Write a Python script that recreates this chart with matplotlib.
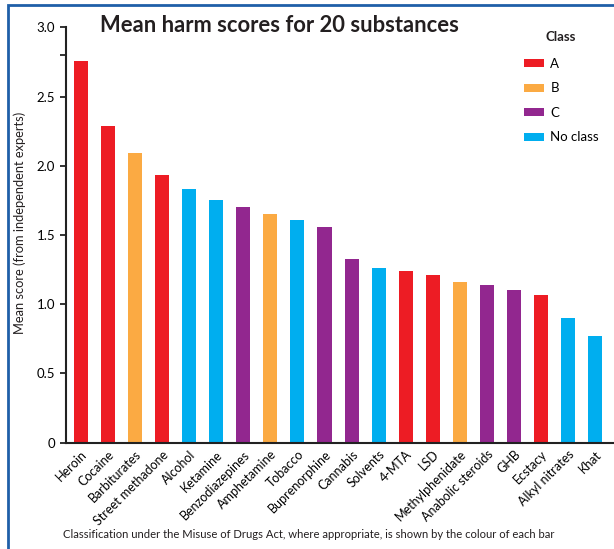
import numpy as np
import matplotlib
matplotlib.use("Agg")
import matplotlib.pyplot as plt
from matplotlib.patches import Patch, Rectangle

substances = ["Heroin", "Cocaine", "Barbiturates", "Street methadone", "Alcohol",
              "Ketamine", "Benzodiazepines", "Amphetamine", "Tobacco", "Buprenorphine",
              "Cannabis", "Solvents", "4-MTA", "LSD", "Methylphenidate",
              "Anabolic steroids", "GHB", "Ecstacy", "Alkyl nitrates", "Khat"]
scores = [2.76, 2.29, 2.09, 1.93, 1.83, 1.75, 1.70, 1.65, 1.61, 1.56,
          1.33, 1.26, 1.24, 1.21, 1.16, 1.14, 1.10, 1.07, 0.90, 0.77]
classes = ["A", "A", "B", "A", "N", "N", "C", "B", "N", "C",
           "C", "N", "A", "A", "B", "C", "C", "A", "N", "N"]
class_names = ["A", "B", "C", "No class"]
class_keys = ["A", "B", "C", "N"]

palette = {"A": "#ED1C24", "B": "#FBAA43", "C": "#92278F", "N": "#00AEEF"}

plt.rcParams['font.family'] = ['Lato', 'DejaVu Sans']

fig = plt.figure(figsize=(6.14, 5.49), dpi=100)
ax = fig.add_axes([65.7 / 614, 1 - 442.7 / 549, (614 - 65.7) / 614, (442.7 - 27.3) / 549])

x = np.arange(len(substances))
ax.bar(x, scores, width=0.52, color=[palette[c] for c in classes])

ax.set_xlim(-0.566, 19.70)
ax.set_ylim(0, 3.0)
ax.set_yticks([0, 0.5, 1.0, 1.5, 2.0, 2.5, 3.0])
ax.set_yticklabels(["0", "0.5", "1.0", "1.5", "2.0", "2.5", "3.0"], fontsize=9.5)
ax.set_yticks([2.8], minor=True)
ax.tick_params(axis='y', which='both', direction='out', length=4, width=1.3, color='#222222')
ax.set_xticks(x)
ax.set_xticklabels(substances, rotation=45, ha='right', rotation_mode='anchor', fontsize=9)
ax.tick_params(axis='x', length=0, pad=4)

for s in ['top', 'right']:
    ax.spines[s].set_visible(False)
for s in ['left', 'bottom']:
    ax.spines[s].set_linewidth(1.5)
    ax.spines[s].set_color('#222222')

fig.text(20 / 614, 1 - 223 / 549, "Mean score (from independent experts)",
         rotation=90, fontsize=9.3, ha='center', va='center', color='#231F20')

fig.text(100 / 614, 1 - 26 / 549, "Mean harm scores for 20 substances",
         fontsize=15.8, fontweight='bold', va='center', ha='left', color='#231F20')

handles = [Patch(facecolor=palette[k], label=n) for k, n in zip(class_keys, class_names)]
leg = fig.legend(handles=handles, loc='upper left',
                 bbox_to_anchor=(512 / 614, 1 - 46 / 549), frameon=False,
                 fontsize=9.5, handlelength=1.5, handleheight=0.6,
                 labelspacing=0.95, handletextpad=0.5)
fig.text(545 / 614, 1 - 37 / 549, "Class", fontsize=9.5, fontweight='bold',
         ha='left', va='center', color='#231F20')

fig.text(309 / 614, 1 - 535 / 549,
         "Classification under the Misuse of Drugs Act, where appropriate, is shown by the colour of each bar",
         fontsize=8.1, ha='center', va='center', color='#231F20')

# blue frame round the figure
fig.patches.append(Rectangle((8 / 614, -0.05), 1.2, 1.05 - 5 / 549,
                             transform=fig.transFigure, fill=False,
                             edgecolor='#1F5FA8', linewidth=2))

fig.savefig("out.png", dpi=100)
